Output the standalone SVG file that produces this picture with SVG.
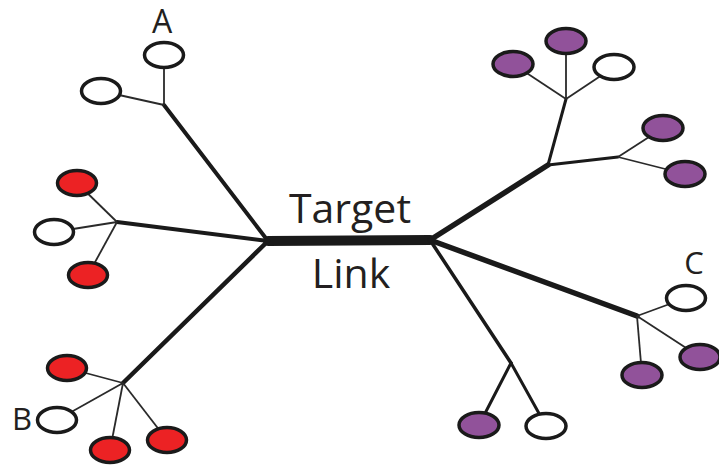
<svg xmlns="http://www.w3.org/2000/svg" width="719" height="470" viewBox="0 0 719 470">
  <style>
    .leaf { stroke: #1a1a1a; stroke-width: 3.5; }
    .white { fill: #ffffff; }
    .red { fill: #ec2224; }
    .purple { fill: #91529a; }
    .branch { stroke: #1a1a1a; fill: none; stroke-linecap: round; }
    .twig { stroke: #2a2a2a; stroke-width: 1.8; fill: none; }
    .label { font-family: "Open Sans", "Liberation Sans", sans-serif; fill: #231f20; }
  </style>
  <rect width="719" height="470" fill="#ffffff"/>

  <!-- connectors: twigs run to leaf centres and are hidden under the filled leaves -->
  <g id="connectors">
    <!-- target link -->
    <line class="branch" x1="268" y1="241" x2="430" y2="240" stroke-width="10" stroke-linecap="butt"/>
    <!-- left hub branches -->
    <line class="branch" x1="268" y1="241" x2="164" y2="105" stroke-width="4"/>
    <line class="branch" x1="268" y1="241" x2="117" y2="222" stroke-width="4"/>
    <line class="branch" x1="268" y1="241" x2="123" y2="383" stroke-width="4.5"/>
    <!-- right hub branches -->
    <line class="branch" x1="430" y1="240" x2="548" y2="165" stroke-width="5.5"/>
    <line class="branch" x1="430" y1="240" x2="637" y2="316" stroke-width="5.5"/>
    <line class="branch" x1="430" y1="240" x2="511" y2="363" stroke-width="3.5"/>
    <line class="branch" x1="548" y1="165" x2="566" y2="99" stroke-width="3"/>
    <line class="branch" x1="548" y1="165" x2="618" y2="157" stroke-width="3"/>
    <!-- twigs, upper left -->
    <line class="twig" x1="164" y1="105" x2="164" y2="55" stroke="#666666" stroke-width="2"/>
    <line class="twig" x1="164" y1="105" x2="101" y2="91"/>
    <!-- twigs, red cluster -->
    <line class="twig" x1="117" y1="222" x2="77" y2="183"/>
    <line class="twig" x1="117" y1="222" x2="54" y2="232"/>
    <line class="twig" x1="117" y1="222" x2="88" y2="275"/>
    <!-- twigs, lower left -->
    <line class="twig" x1="123" y1="383" x2="67" y2="368"/>
    <line class="twig" x1="123" y1="383" x2="57" y2="420"/>
    <line class="twig" x1="123" y1="383" x2="110" y2="450"/>
    <line class="twig" x1="123" y1="383" x2="167" y2="440"/>
    <!-- twigs, upper right -->
    <line class="twig" x1="566" y1="99" x2="513" y2="64"/>
    <line class="twig" x1="566" y1="99" x2="566" y2="41"/>
    <line class="twig" x1="566" y1="99" x2="614" y2="67"/>
    <line class="twig" x1="618" y1="157" x2="663" y2="128"/>
    <line class="twig" x1="618" y1="157" x2="685" y2="174"/>
    <!-- twigs, right -->
    <line class="twig" x1="637" y1="316" x2="686" y2="298"/>
    <line class="twig" x1="637" y1="316" x2="700" y2="357"/>
    <line class="twig" x1="637" y1="316" x2="642" y2="375"/>
    <!-- twigs, bottom -->
    <line class="branch" x1="511" y1="363" x2="546" y2="426" stroke-width="3"/>
    <line class="branch" x1="511" y1="363" x2="479" y2="425" stroke-width="3"/>
  </g>

  <!-- leaves -->
  <g id="leaf-a"><ellipse class="leaf white" cx="164" cy="55" rx="19.5" ry="12.5"/></g>
  <g id="leaf-a2"><ellipse class="leaf white" cx="101" cy="91" rx="19.5" ry="12.5"/></g>
  <g id="leaf-r1"><ellipse class="leaf red" cx="77" cy="183" rx="19.5" ry="12.5"/></g>
  <g id="leaf-w1"><ellipse class="leaf white" cx="54" cy="232" rx="19.5" ry="12.5"/></g>
  <g id="leaf-r2"><ellipse class="leaf red" cx="88" cy="275" rx="19.5" ry="12.5"/></g>
  <g id="leaf-r3"><ellipse class="leaf red" cx="67" cy="368" rx="19.5" ry="12.5"/></g>
  <g id="leaf-b"><ellipse class="leaf white" cx="57" cy="420" rx="19.5" ry="12.5"/></g>
  <g id="leaf-r4"><ellipse class="leaf red" cx="110" cy="450" rx="19.5" ry="12.5"/></g>
  <g id="leaf-r5"><ellipse class="leaf red" cx="167" cy="440" rx="19.5" ry="12.5"/></g>
  <g id="leaf-p1"><ellipse class="leaf purple" cx="513" cy="64" rx="20" ry="12.5"/></g>
  <g id="leaf-p2"><ellipse class="leaf purple" cx="566" cy="41" rx="20" ry="12.5"/></g>
  <g id="leaf-w2"><ellipse class="leaf white" cx="614" cy="67" rx="20" ry="12.5"/></g>
  <g id="leaf-p3"><ellipse class="leaf purple" cx="663" cy="128" rx="20" ry="12.5"/></g>
  <g id="leaf-p4"><ellipse class="leaf purple" cx="685" cy="174" rx="20" ry="12.5"/></g>
  <g id="leaf-c"><ellipse class="leaf white" cx="686" cy="298" rx="19.5" ry="12.5"/></g>
  <g id="leaf-p5"><ellipse class="leaf purple" cx="700" cy="357" rx="20" ry="12.5"/></g>
  <g id="leaf-p6"><ellipse class="leaf purple" cx="642" cy="375" rx="20" ry="12.5"/></g>
  <g id="leaf-p7"><ellipse class="leaf purple" cx="479" cy="425" rx="20" ry="12.5"/></g>
  <g id="leaf-w3"><ellipse class="leaf white" cx="546" cy="426" rx="20" ry="12.5"/></g>

  <!-- labels -->
  <g id="labels">
    <text class="label" x="162" y="33" font-size="32" text-anchor="middle">A</text>
    <text class="label" x="22" y="430" font-size="31" text-anchor="middle">B</text>
    <text class="label" x="694" y="274" font-size="31" text-anchor="middle">C</text>
    <text class="label" x="350" y="223" font-size="41" text-anchor="middle">Target</text>
    <text class="label" x="351" y="288" font-size="41" text-anchor="middle">Link</text>
  </g>
</svg>
